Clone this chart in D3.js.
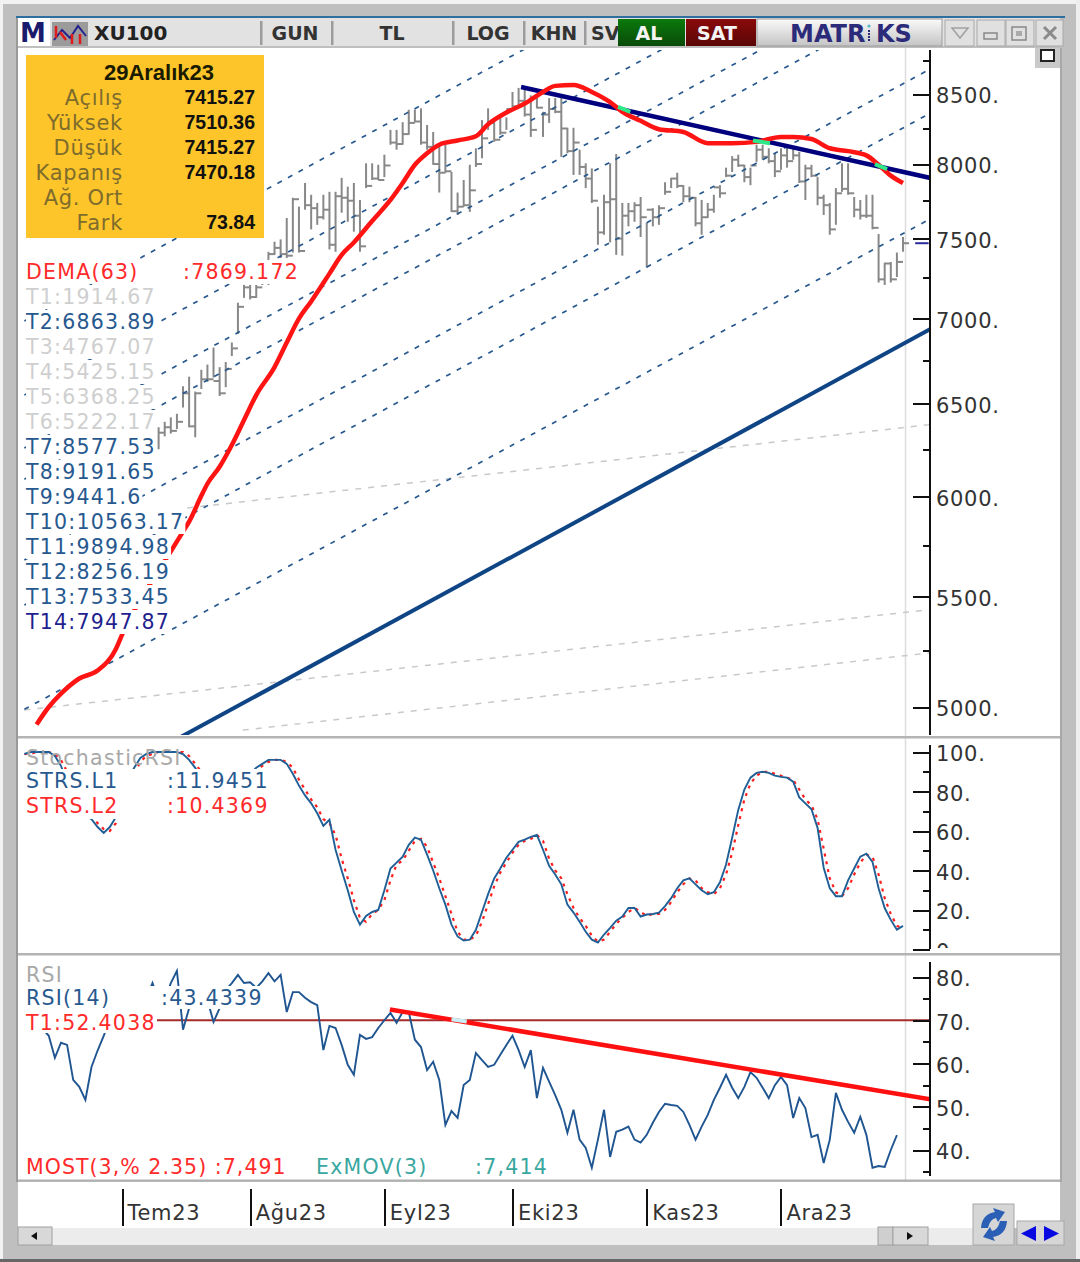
<!DOCTYPE html>
<html lang="tr">
<head>
<meta charset="utf-8">
<title>XU100</title>
<style>
  html, body { margin: 0; padding: 0; background: #c0c0c0; }
  svg { display: block; }
  text { font-family: "DejaVu Sans", sans-serif; }
  .axis text { font-size: 21px; fill: #333; font-family: "DejaVu Sans", sans-serif; letter-spacing: 0.7px; }
  .axis line, .axis path { stroke: #111; stroke-width: 2; shape-rendering: crispEdges; }
  .axis.lab .domain { display: none; }
</style>
</head>
<body>
<svg id="chart" width="1080" height="1262"></svg>
<script src="https://d3js.org/d3.v7.min.js"></script>
<script>
// day index: 0 = first trading day of July 2023, 128 = 29 Dec 2023
const monthIdx = [0, 21, 43, 64, 86, 108];
const monthLabels = ["Tem23", "Ağu23", "Eyl23", "Eki23", "Kas23", "Ara23"];

const priceMajor = [5000, 5500, 6000, 6500, 7000, 7500, 8000, 8500];
const priceMinor = [5250, 5750, 6250, 6750, 7250, 7750, 8250, 8750];
const stochMajor = [0, 20, 40, 60, 80, 100];
const stochMinor = [10, 30, 50, 70, 90];
const rsiMajor = [40, 50, 60, 70, 80];
const rsiMinor = [35, 45, 55, 65, 75];

// price bars start at day 6
const barStart = 6;
const highs = [6370,6400,6425,6445,6600,6655,6570,6695,6725,6825,6710,6740,6855,7095,7205,7205,7205,7285,7415,7480,7495,7635,7770,7710,7870,7790,7735,7790,7810,7810,7905,7845,7870,7755,8005,8005,7995,8065,8240,8240,8295,8385,8385,8395,8275,8225,8135,8150,7945,7805,7890,7995,8110,8310,8395,8295,8325,8330,8515,8545,8530,8490,8480,8370,8470,8470,8470,8255,8255,8100,8005,7970,7710,7790,8005,8070,7735,7735,7740,7775,7605,7700,7720,7875,7905,7940,7855,7845,7775,7755,7735,7790,7855,7975,8055,8065,7995,7975,8135,8135,8110,8075,8110,8120,8110,8085,7995,7995,7910,7790,7735,7835,8005,8005,7775,7755,7790,7790,7530,7345,7350,7410,7510];
const lows = [6250,6320,6335,6360,6480,6370,6315,6585,6625,6650,6545,6595,6775,6905,7125,7115,7125,7205,7205,7395,7375,7375,7410,7410,7690,7560,7590,7625,7430,7415,7670,7610,7545,7415,7835,7890,7890,7910,8135,8100,8135,8205,8295,8135,8100,7995,7805,7940,7675,7655,7710,7675,7980,8040,8240,8155,8205,8240,8385,8420,8335,8190,8395,8190,8290,8360,8050,8075,7925,7925,7835,7735,7460,7525,7475,7395,7390,7580,7610,7510,7315,7580,7590,7790,7835,7835,7740,7740,7580,7525,7635,7670,7770,7910,7945,7980,7875,7855,8015,8030,8005,7910,7960,7975,8030,7870,7755,7910,7720,7655,7525,7590,7810,7790,7640,7625,7635,7560,7220,7205,7220,7255,7415];
const closes = [6340,6370,6350,6400,6560,6375,6560,6640,6640,6630,6560,6700,6820,7070,7190,7130,7190,7230,7400,7440,7400,7390,7760,7420,7720,7700,7640,7690,7460,7780,7770,7750,7650,7450,7850,7900,7890,7990,8150,8140,8210,8290,8300,8150,8120,8000,7940,7950,7680,7710,7720,7820,8000,8180,8290,8170,8220,8390,8410,8450,8350,8240,8400,8350,8390,8370,8250,8090,8150,7980,7900,7750,7540,7740,7760,7500,7650,7680,7720,7640,7690,7640,7700,7810,7900,7850,7780,7770,7600,7640,7690,7840,7800,7920,8030,7990,7910,7990,8100,8050,8020,7950,8060,8020,8060,7880,7970,7920,7770,7720,7560,7800,7830,7800,7690,7650,7650,7570,7240,7340,7240,7350,7470];

// DEMA(63), read at these days
const demaIdx = [-14,-12,-10,-7,-4,-1,0,8,10,11,13,14,16,18,20,22,25,27,29,31,34,36,38,41,44,46,48,50,52,55,58,60,63,66,69,71,74,77,80,82,85,88,92,96,100,104,108,110,113,116,119,122,124,126,128];
const demaVal = [4925,5000,5058,5125,5160,5258,5322,5721,5820,5870,6003,6066,6156,6273,6410,6550,6710,6855,6998,7103,7276,7395,7475,7615,7755,7870,7995,8075,8135,8165,8195,8280,8365,8430,8515,8560,8567,8515,8440,8370,8305,8245,8225,8145,8145,8155,8190,8190,8175,8110,8090,8060,7995,7920,7869.172];

// trend channels: value on the left edge (day -16) and on the right edge (day 132.5)
const channelStart = [6984, 6550, 6256, 6090, 5678, 5461, 4990];
const channelEnd = [10697, 10021, 9562, 9309, 8687, 8361, 7630];
const supportLine = [[-16, 4526], [132.5, 6935]];
const resistLine = [[65.4, 8552], [132.5, 7904]];
const greyLines = [
  [[10.7, 5940], [132.5, 6385]],
  [[-16, 4987], [132.5, 5440]],
  [[19.8, 4901], [132.5, 5240]]
];
const demaCross = [
  [[81.3, 8405], [83.3, 8370]],
  [[103.4, 8165], [106.2, 8145]],
  [[123.4, 8000], [125.4, 7965]]
];

// StochasticRSI, days -16..128
const stochStart = -16;
const stochL1 = [99,100,100,100,100,98,93,85,76,71,68,66,62,59,62,67,78,86,92,97,99,100,100,100,100,100,99,96,92,87,82,78,75,74,76,80,85,89,92,94,96,96,96,94,89,83,78,74,69,62.6,65.7,50.5,40,30,19,12.6,17,19,20,30,41,44,47,53,56.6,55.6,48,40,31,22.7,12.6,6.6,4.5,5,10,19,28,36,41,46.5,50.5,54.5,55.6,57,58,50.5,42.4,38,33,22.7,18.7,14,9,5,3.5,7.6,11,14.6,16.7,21,21,16.7,17.7,18,18.7,22,26,31,35,36,33,30,28,29,34,43,56.6,70.7,81,87,89.4,90,89.4,88,87.4,87,85,77,74,71,61.6,41.4,31,27,27,35,41,47,48.5,44.4,31,21,15,10,11.9451];
const stochL2 = [99,99,100,100,100,99,96,90,81,74,70,67,64,61,60,64,72,82,89,95,98,99,100,100,100,100,100,98,94,90,85,80,77,75,75,78,82,87,90,93,95,96,96,95,92,86,81,76,72,66,64,58,46,36,25,16,14,18,20,25,35,43,45,50,55,56,52,44,36,27,18,9,5,5,7,14,23,32,39,44,49,53,55,56,58,55,46,40,36,28,21,16,12,7,4,5,9,13,16,19,21,19,17,18,18,20,24,29,33,36,35,31,29,28,31,38,49,63,76,84,88,90,90,89,88,87,86,81,76,73,66,51,36,29,27,31,38,44,48,47,38,26,18,12,10.4369];

// RSI(14), days -14..128
const rsiStart = -14;
const rsiVal = [70,68,66.4,61.3,64.8,64.3,56.2,54.6,51.6,59.2,63,66.4,70,73.5,75,76,77,75,75,78.6,74.7,74.7,78.6,81.4,67.8,72.8,75.8,75,74.7,69.6,72.8,77,78.6,80.5,78.6,78.8,77.5,79,80.9,79,80.5,71.9,76.5,76.5,75.2,74.2,73.5,63.1,68.7,68.2,64.3,59.7,57.4,66.6,65.7,66.1,68.2,70,71.7,69.4,71.9,71.9,65.5,63.8,58.5,60.4,56.2,45.8,49,47.4,55,56.2,62.4,60.8,59.2,59.7,62,64.3,66.4,63.1,59.2,63.1,52,59,55.8,52.7,49.3,44,49.3,42.4,40.5,35.9,42.4,49.3,38.4,44.2,44.7,45.4,42.4,41.7,43.5,46.3,48.8,50.7,50.4,50.2,48.8,45.8,42.4,45.4,48.1,51.6,54.4,57.4,54.4,52,54.6,58,56.7,54.4,52,55,56.9,55,47.4,52,49.7,43,43.5,37,42.4,53.2,49.3,46.5,44,47.7,43.5,35.9,36.3,36.1,40,43.4339];
const rsiTrend = [[43.9, 72.5], [132.5, 51.7]];
const rsiLevel = 70;

// legend rows
const infoDate = "29Aralık23";
const infoLabels = ["Açılış", "Yüksek", "Düşük", "Kapanış", "Ağ. Ort", "Fark"];
const infoValues = ["7415.27", "7510.36", "7415.27", "7470.18", "", "73.84"];
const trendNames = ["T1:1914.67","T2:6863.89","T3:4767.07","T4:5425.15","T5:6368.25","T6:5222.17","T7:8577.53","T8:9191.65","T9:9441.6","T10:10563.17","T11:9894.98","T12:8256.19","T13:7533.45","T14:7947.87"];
const trendColors = ["#cfcfcf","#27598f","#cfcfcf","#cfcfcf","#cfcfcf","#cfcfcf","#27598f","#27598f","#27598f","#27598f","#27598f","#27598f","#27598f","#1f1f8f"];

const svg = d3.select("#chart");
const x = d3.scaleLinear().domain([0, 128]).range([122, 903]);
const yPrice = d3.scaleLog().domain([5000, 8500]).range([707, 94]);
const yStoch = d3.scaleLinear().domain([0, 100]).range([949.5, 752]);
const yRsi = d3.scaleLinear().domain([40, 80]).range([1150, 977]);

const bars = highs.map((h, k) => ({ i: barStart + k, h: h, l: lows[k], c: closes[k] }));

drawFrame();
drawPanels();
drawPrice();
drawStoch();
drawRsi();
drawAxes();
drawLegends();
drawToolbar();
drawBottom();

function rect(g, x0, y0, w, h, fill, stroke) {
    return g.append("rect").attr("x", x0).attr("y", y0).attr("width", w).attr("height", h)
        .attr("fill", fill).attr("stroke", stroke || "none");
}

function label(g, str, x0, y0, size, color, opts) {
    opts = opts || {};
    const t = g.append("text").attr("x", x0).attr("y", y0).attr("dy", "0.36em")
        .attr("font-size", size).attr("fill", color)
        .attr("font-weight", opts.bold ? "bold" : "normal")
        .attr("text-anchor", opts.anchor || "start")
        .attr("letter-spacing", opts.ls || 0)
        .text(str);
    if (opts.family) t.style("font-family", opts.family);
    return t;
}

function drawFrame() {
    rect(svg, 0, 0, 1080, 1262, "#bfbfbf");
    rect(svg, 0, 0, 1080, 4, "#f2f2f2");
    rect(svg, 0, 0, 3, 1262, "#f2f2f2");
    rect(svg, 1076, 0, 4, 1262, "#eeeeee");
    rect(svg, 0, 1259, 1080, 3, "#666");
    rect(svg, 16, 16, 1049, 2, "#2f6f9f");
}

function drawPanels() {
    rect(svg, 18, 48, 1042, 1132, "#fff");
    rect(svg, 18, 1182, 1042, 46, "#fff");
    svg.append("clipPath").attr("id", "clipPrice").append("rect")
        .attr("x", 24).attr("y", 50).attr("width", 906).attr("height", 685);
    svg.append("clipPath").attr("id", "clipStoch").append("rect")
        .attr("x", 20).attr("y", 740).attr("width", 910).attr("height", 212);
    svg.append("clipPath").attr("id", "clipRsi").append("rect")
        .attr("x", 20).attr("y", 956).attr("width", 910).attr("height", 222);
    svg.append("clipPath").attr("id", "clipStochLab").append("rect")
        .attr("x", 0).attr("y", 740).attr("width", 130).attr("height", 208);
    svg.append("line").attr("x1", 905.5).attr("x2", 905.5).attr("y1", 48).attr("y2", 1180)
        .attr("stroke", "#dcdcdc").attr("stroke-width", 1.5);
}

function drawPrice() {
    const g = svg.append("g").attr("clip-path", "url(#clipPrice)");
    const line = d3.line().x(d => x(d[0])).y(d => yPrice(d[1]));

    // HLC bars
    const barG = g.append("g").attr("stroke", "#888").attr("stroke-width", 2).attr("fill", "none");
    barG.selectAll("line.hl").data(bars).join("line").attr("class", "hl")
        .attr("x1", d => x(d.i)).attr("x2", d => x(d.i))
        .attr("y1", d => yPrice(d.h)).attr("y2", d => yPrice(d.l));
    barG.selectAll("line.cl").data(bars).join("line").attr("class", "cl")
        .attr("x1", d => x(d.i)).attr("x2", d => x(d.i + 1))
        .attr("y1", d => yPrice(d.c)).attr("y2", d => yPrice(d.c));

    // grey dashed trends
    g.selectAll("path.grey").data(greyLines).join("path").attr("class", "grey")
        .attr("d", line).attr("fill", "none").attr("stroke", "#c9c9c9")
        .attr("stroke-width", 1.5).attr("stroke-dasharray", "6 7");

    // parallel channels
    const channels = channelStart.map((s, k) => [[-16, s], [132.5, channelEnd[k]]]);
    g.selectAll("path.chan").data(channels).join("path").attr("class", "chan")
        .attr("d", line).attr("fill", "none").attr("stroke", "#27598f")
        .attr("stroke-width", 1.7).attr("stroke-dasharray", "5 7");

    g.append("path").attr("d", line(supportLine)).attr("fill", "none")
        .attr("stroke", "#0f4585").attr("stroke-width", 4);
    g.append("path").attr("d", line(resistLine)).attr("fill", "none")
        .attr("stroke", "#00007f").attr("stroke-width", 4.5);

    const demaPts = demaIdx.map((d, k) => [d, demaVal[k]]);
    g.append("path").attr("d", line.curve(d3.curveMonotoneX)(demaPts)).attr("fill", "none")
        .attr("stroke", "#ff1414").attr("stroke-width", 4.5).attr("stroke-linejoin", "round");
    line.curve(d3.curveLinear);
    g.selectAll("path.cross").data(demaCross).join("path").attr("class", "cross")
        .attr("d", line).attr("fill", "none").attr("stroke", "#2ee88a").attr("stroke-width", 4);

    // last close marker next to the scale
    svg.append("path")
        .attr("d", line([[130, closes[closes.length - 1]], [132.2, closes[closes.length - 1]]]))
        .attr("stroke", "#2a2a9a").attr("stroke-width", 2).attr("fill", "none");
}

function drawStoch() {
    const g = svg.append("g").attr("clip-path", "url(#clipStoch)");
    const line = d3.line().x((d, k) => x(stochStart + k)).y(d => yStoch(d));
    g.append("path").attr("d", line(stochL2)).attr("fill", "none")
        .attr("stroke", "#ff1e1e").attr("stroke-width", 2.2).attr("stroke-dasharray", "3 5");
    g.append("path").attr("d", line(stochL1)).attr("fill", "none")
        .attr("stroke", "#1f5f96").attr("stroke-width", 1.9);
}

function drawRsi() {
    const g = svg.append("g").attr("clip-path", "url(#clipRsi)");
    const line = d3.line().x((d, k) => x(rsiStart + k)).y(d => yRsi(d));
    const xy = d3.line().x(d => x(d[0])).y(d => yRsi(d[1]));
    g.append("line").attr("x1", 24).attr("x2", 930)
        .attr("y1", yRsi(rsiLevel)).attr("y2", yRsi(rsiLevel))
        .attr("stroke", "#a52a2a").attr("stroke-width", 2);
    g.append("path").attr("d", line(rsiVal)).attr("fill", "none")
        .attr("stroke", "#1f5590").attr("stroke-width", 1.9);
    g.append("path").attr("d", xy(rsiTrend)).attr("fill", "none")
        .attr("stroke", "#ff1010").attr("stroke-width", 4.5);
    g.append("path").attr("d", xy([[54, 70.2], [56.5, 69.7]])).attr("fill", "none")
        .attr("stroke", "#c6eef4").attr("stroke-width", 4);
}

function drawAxes() {
    const makeAxis = (scale, major, minor, top, bottom, clip) => {
        const a = svg.append("g").attr("transform", "translate(930,0)");
        a.append("line").attr("y1", top).attr("y2", bottom).attr("stroke", "#111").attr("stroke-width", 2);
        const maj = a.append("g").attr("class", "axis")
            .call(d3.axisLeft(scale).tickValues(major).tickSize(17).tickFormat(""));
        maj.select(".domain").remove();
        const min = a.append("g").attr("class", "axis")
            .call(d3.axisLeft(scale).tickValues(minor).tickSize(7).tickFormat(""));
        min.select(".domain").remove();
        const lab = a.append("g").attr("class", "axis lab")
            .call(d3.axisRight(scale).tickValues(major).tickSize(0).tickPadding(6).tickFormat(d => d + "."));
        lab.selectAll("text").attr("dy", "0.42em");
        if (clip) lab.attr("clip-path", clip);
    };
    makeAxis(yPrice, priceMajor, priceMinor, 50, 735);
    makeAxis(yStoch, stochMajor, stochMinor, 745, 949, "url(#clipStochLab)");
    makeAxis(yRsi, rsiMajor, rsiMinor, 962, 1176);

    // panel separators
    [737, 954].forEach(v => rect(svg, 18, v - 1, 1042, 2.5, "#b4b4b4"));
    rect(svg, 18, 1179.5, 1042, 2, "#b0b0b0");
    rect(svg, 16, 18, 2, 1164, "#9a9a9a");
    rect(svg, 1060, 48, 2, 1134, "#a8a8a8");

    const ax = svg.append("g").attr("class", "axis").attr("transform", "translate(0,1189)")
        .call(d3.axisBottom(x).tickValues(monthIdx).tickSize(37)
            .tickFormat((d, k) => monthLabels[k]));
    ax.select(".domain").remove();
    ax.selectAll("text").attr("x", 5).attr("y", 16).attr("dy", "0.71em").style("text-anchor", "start");
}

function drawLegends() {
    const ls = 1.25;
    // orange info box
    const box = svg.append("g");
    rect(box, 26, 55, 238, 183, "#fdc52a");
    label(box, infoDate, 159, 72, 22, "#1a1a00", { bold: true, anchor: "middle", family: "Liberation Sans" });
    infoLabels.forEach((t, k) => {
        label(box, t, 123, 97 + 25 * k, 21, "#7d6c2c", { anchor: "end", ls: 0.7 });
        label(box, infoValues[k], 255, 97 + 25 * k, 19.5, "#111", { bold: true, anchor: "end", family: "Liberation Sans" });
    });

    // masked rows
    const rows = svg.append("g");
    rect(rows, 26, 260, 272, 24, "#fff");
    label(rows, "DEMA(63)", 26, 272, 20.5, "#ff2a2a", { ls: ls });
    label(rows, ":7869.172", 183, 272, 20.5, "#ff2a2a", { ls: ls });

    trendNames.forEach((t, k) => {
        const yc = 297 + 25 * k;
        const tx = label(rows, t, 26, yc, 20.5, trendColors[k], { ls: ls });
        const w = tx.node().getComputedTextLength();
        rect(rows, 26, yc - 12, w + 1, 24, "#fff").lower();
    });
    rows.selectAll("rect").lower();

    const st = svg.append("g");
    label(st, "StochasticRSI", 26, 758, 20.5, "#a8a8a8", { ls: ls });
    rect(st, 24, 769, 246, 50, "#fff");
    label(st, "STRS.L1", 26, 781, 20.5, "#27598f", { ls: ls });
    label(st, ":11.9451", 167, 781, 20.5, "#27598f", { ls: ls });
    label(st, "STRS.L2", 26, 806, 20.5, "#ff2a2a", { ls: ls });
    label(st, ":10.4369", 167, 806, 20.5, "#ff2a2a", { ls: ls });

    const rs = svg.append("g");
    label(rs, "RSI", 26, 975, 20.5, "#a8a8a8", { ls: ls });
    rect(rs, 24, 986, 239, 23, "#fff");
    rect(rs, 24, 1009, 133, 24, "#fff");
    label(rs, "RSI(14)", 26, 998, 20.5, "#27598f", { ls: ls });
    label(rs, ":43.4339", 161, 998, 20.5, "#27598f", { ls: ls });
    label(rs, "T1:52.4038", 26, 1023, 20.5, "#ff2a2a", { ls: ls });
    label(rs, "MOST(3,% 2.35) :7,491", 26, 1167, 20.5, "#ff2a2a", { ls: 1.05 });
    label(rs, "ExMOV(3)", 316, 1167, 20.5, "#3aa79f", { ls: ls });
    label(rs, ":7,414", 475, 1167, 20.5, "#3aa79f", { ls: ls });
}

function drawToolbar() {
    const t = svg.append("g");
    const grad = (id, a, b) => {
        const lg = svg.append("linearGradient").attr("id", id).attr("x1", 0).attr("x2", 0).attr("y1", 0).attr("y2", 1);
        lg.append("stop").attr("offset", 0).attr("stop-color", a);
        lg.append("stop").attr("offset", 1).attr("stop-color", b);
    };
    grad("gGreen", "#0a7a0a", "#0a4a0a");
    grad("gRed", "#8a0a0a", "#5a0505");
    grad("gWhite", "#fafafa", "#c4c4c4");

    rect(t, 18, 18, 1042, 28, "#e2e2e2");
    rect(t, 18, 18, 32, 28, "#fff");
    label(t, "M", 33, 33, 26, "#1b1b6e", { bold: true, anchor: "middle" });

    // small chart icon
    rect(t, 52, 22, 36, 24, "#9b9b9b");
    t.append("path").attr("d", "M54 40 L62 30 L70 38 L78 26 L86 36").attr("fill", "none").attr("stroke", "#23238f").attr("stroke-width", 2);
    t.append("path").attr("d", "M56 26 L56 38 M60 32 L66 40 M72 34 L72 44 M80 34 L80 44").attr("fill", "none").attr("stroke", "#e01b1b").attr("stroke-width", 2.5);

    label(t, "XU100", 94, 33, 20, "#222", { bold: true });
    [[260, 2.5], [331, 2.5], [452, 2.5], [523, 2.5], [584, 2.5]].forEach(d => rect(t, d[0], 21, d[1], 24, "#9c9c9c"));
    label(t, "GUN", 295, 33, 19, "#333", { bold: true, anchor: "middle" });
    label(t, "TL", 392, 33, 19, "#333", { bold: true, anchor: "middle" });
    label(t, "LOG", 488, 33, 19, "#333", { bold: true, anchor: "middle" });
    label(t, "KHN", 554, 33, 19, "#333", { bold: true, anchor: "middle" });
    label(t, "SV", 591, 33, 19, "#333", { bold: true });

    rect(t, 618, 19, 67, 27, "url(#gGreen)");
    label(t, "AL", 649, 33, 19, "#f4f4f4", { bold: true, anchor: "middle" });
    rect(t, 686, 19, 70, 27, "url(#gRed)");
    label(t, "SAT", 717, 33, 19, "#f4f4f4", { bold: true, anchor: "middle" });
    rect(t, 757, 19, 185, 27, "url(#gWhite)", "#9a9a9a");
    label(t, "MATR", 790, 33, 24, "#2b2b7a", { bold: true });
    label(t, "KS", 876, 33, 24, "#2b2b7a", { bold: true });
    t.append("circle").attr("cx", 869).attr("cy", 26).attr("r", 1.6).attr("fill", "#57b7c9");
    t.append("path").attr("d", "M869 30 L869 41").attr("stroke", "#2b2b7a").attr("stroke-width", 2).attr("stroke-dasharray", "2 1");

    [[945, 29], [977, 28], [1006, 28], [1036, 27]].forEach(d => rect(t, d[0], 20, d[1], 26, "#e0e0e0", "#a8a8a8"));
    t.append("path").attr("d", "M952 28 L968 28 L960 38 Z").attr("fill", "none").attr("stroke", "#a0a0a0").attr("stroke-width", 1.5);
    rect(t, 984, 33, 13, 6, "none", "#888").attr("stroke-width", 1.5);
    rect(t, 1012, 27, 14, 13, "none", "#888").attr("stroke-width", 1.5);
    rect(t, 1016, 31, 6, 5, "#aaa");
    t.append("path").attr("d", "M1044 27 L1056 39 M1056 27 L1044 39").attr("stroke", "#8a8a8a").attr("stroke-width", 3);

    // restore button in the plot corner
    rect(t, 1035, 48, 25, 20, "#c9c9c9");
    rect(t, 1041, 50, 13, 11, "#fff", "#222").attr("stroke-width", 2);
}

function drawBottom() {
    const b = svg.append("g");
    rect(b, 18, 1228, 960, 17, "#ececec");
    rect(b, 18, 1227, 34, 18, "#d8d8d8", "#a0a0a0");
    b.append("path").attr("d", "M37 1232 L37 1240 L31 1236 Z").attr("fill", "#111");
    rect(b, 878, 1227, 15, 18, "#cfcfcf", "#a0a0a0");
    rect(b, 893, 1227, 35, 18, "#d8d8d8", "#a0a0a0");
    b.append("path").attr("d", "M907 1232 L907 1240 L913 1236 Z").attr("fill", "#111");

    // refresh button
    rect(b, 973, 1204, 41, 41, "#d6d6d6", "#a8a8a8");
    b.append("path").attr("d", "M981 1228 Q982 1214 995 1212 L993 1208 L1005 1212 L998 1222 L996 1218 Q990 1219 988 1228 Z").attr("fill", "#2a5fb5");
    b.append("path").attr("d", "M1007 1221 Q1006 1235 993 1237 L995 1241 L983 1237 L990 1227 L992 1231 Q998 1230 1000 1221 Z").attr("fill", "#2a5fb5");

    // back / forward
    rect(b, 1017, 1221, 47, 24, "#d6d6d6", "#a8a8a8");
    b.append("path").attr("d", "M1036 1226 L1036 1241 L1021 1233.5 Z").attr("fill", "#0808e0");
    b.append("path").attr("d", "M1044 1226 L1044 1241 L1059 1233.5 Z").attr("fill", "#0808e0");
}
</script>
</body>
</html>
